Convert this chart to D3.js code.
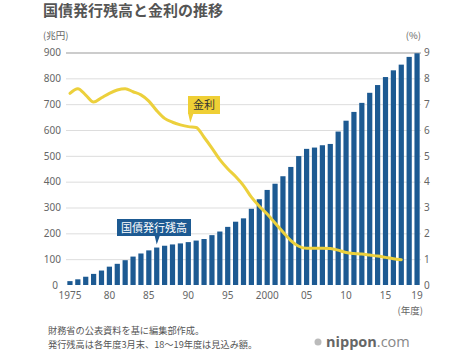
<!DOCTYPE html>
<html><head><meta charset="utf-8">
<script src="https://cdn.jsdelivr.net/npm/d3@7"></script>
<style>
body{margin:0;background:#fff;}
svg{display:block;font-family:"Noto Sans CJK JP","Noto Sans",sans-serif;}
</style></head>
<body>
<svg id="c" width="474" height="353"></svg>
<script>
const years = d3.range(1975, 2020);
const debt = [15,22,32,43,56,71,82,96,110,122,134,145,152,157,161,166,172,178,193,207,225,245,258,295,332,368,392,421,457,499,527,532,541,546,594,636,670,705,744,774,805,831,853,883,897];
const rateYears = d3.range(1975, 2018);
const rate = [7.42,7.6,7.35,7.08,7.25,7.42,7.55,7.6,7.48,7.36,7.12,6.75,6.45,6.3,6.2,6.13,6.1,5.72,5.3,4.85,4.5,4.2,3.85,3.4,3.05,2.75,2.4,2.05,1.72,1.5,1.42,1.42,1.42,1.41,1.35,1.26,1.22,1.2,1.16,1.12,1.07,1.02,0.98];
const leftTicks = [0,100,200,300,400,500,600,700,800,900];
const rightTicks = [0,1,2,3,4,5,6,7,8,9];
const xTickYears = [1975,1980,1985,1990,1995,2000,2005,2010,2015,2019];
const xTickLabels = ["1975","80","85","90","95","2000","05","10","15","19"];

const svg = d3.select("#c");
const x = d3.scaleBand().domain(years).range([66, 421]).paddingInner(0.34).paddingOuter(0.17);
const yL = d3.scaleLinear().domain([0, 900]).range([285, 52.5]);
const yR = d3.scaleLinear().domain([0, 9]).range([285, 52.5]);
const cx = d => x(d) + x.bandwidth() / 2;

const gray = "#666";
// title
svg.append("text").attr("x", 43).attr("y", 16).attr("font-size", 15).attr("font-weight", "bold")
  .attr("fill", "#555").text("国債発行残高と金利の推移");
svg.append("text").attr("x", 43).attr("y", 39).attr("font-size", 9.5).attr("fill", gray).text("(兆円)");
svg.append("text").attr("x", 421).attr("y", 39).attr("font-size", 9.5).attr("fill", gray).attr("text-anchor", "end").text("(%)");

// grid
svg.append("g").selectAll("line").data(leftTicks.filter(d => d > 0)).join("line")
  .attr("x1", 66).attr("x2", 421)
  .attr("y1", d => yL(d) + 0.5).attr("y2", d => yL(d) + 0.5)
  .attr("stroke", d => d === 900 ? "#999" : "#ddd").attr("stroke-width", 1);

// left axis
const gl = svg.append("g").attr("transform", "translate(61,0)")
  .call(d3.axisLeft(yL).tickValues(leftTicks).tickSize(0).tickPadding(0));
gl.select(".domain").remove();
gl.selectAll("text").attr("font-size", 10).attr("fill", gray).attr("font-family", "'Noto Sans','Noto Sans CJK JP',sans-serif");
gl.selectAll(".tick").filter(d => d === 0).select("text").attr("dx", -3);

// right axis
const gr = svg.append("g").attr("transform", "translate(424,0)")
  .call(d3.axisRight(yR).tickValues(rightTicks).tickSize(0).tickPadding(0));
gr.select(".domain").remove();
gr.selectAll("text").attr("font-size", 10).attr("fill", gray).attr("font-family", "'Noto Sans','Noto Sans CJK JP',sans-serif");

// bars
svg.append("g").selectAll("rect").data(years).join("rect")
  .attr("x", d => x(d)).attr("width", x.bandwidth())
  .attr("y", (d, i) => yL(debt[i])).attr("height", (d, i) => yL(0) - yL(debt[i]))
  .attr("fill", "#1d5a92");

// x axis labels
const xTickMap = new Map(xTickYears.map((y, i) => [y, xTickLabels[i]]));
const gx = svg.append("g").attr("transform", "translate(0,287)")
  .call(d3.axisBottom(x).tickValues(xTickYears).tickFormat(d => xTickMap.get(d)).tickSize(0).tickPadding(5));
gx.select(".domain").remove();
gx.selectAll("text").attr("font-size", 10).attr("fill", gray).attr("font-family", "'Noto Sans','Noto Sans CJK JP',sans-serif");
svg.append("text").attr("x", 423).attr("y", 314).attr("font-size", 9.5).attr("fill", gray).attr("text-anchor", "end").text("(年度)");

// rate line
const line = d3.line().x((d, i) => cx(rateYears[i])).y(d => yR(d)).curve(d3.curveMonotoneX);
svg.append("path").datum(rate).attr("d", line).attr("fill", "none")
  .attr("stroke", "#ecd03c").attr("stroke-width", 3).attr("stroke-linejoin", "round").attr("stroke-linecap", "round");

// callout labels
function callout(label, bx, by, bw, bh, tipX, tipY, fill, color) {
  const g = svg.append("g");
  const base = by + bh;
  g.append("path").attr("d",
    `M${bx},${by}H${bx + bw}V${base}H${tipX + 3}L${tipX},${tipY}L${tipX - 2},${base}H${bx}Z`)
    .attr("fill", fill);
  g.append("text").attr("x", bx + bw / 2).attr("y", by + bh / 2 + 4).attr("text-anchor", "middle")
    .attr("font-size", 11).attr("fill", color).text(label);
}
const rateLabelYear = 1990, debtLabelYear = 1986;
callout("金利", 188, 96, 32, 18, cx(rateLabelYear) + 2, yR(rate[rateYears.indexOf(rateLabelYear)]) - 4, "#efcf35", "#333");
callout("国債発行残高", 117, 219, 74, 17, cx(debtLabelYear), yL(debt[years.indexOf(debtLabelYear)]) - 3, "#1d5a92", "#fff");

// footer
svg.append("text").attr("x", 48).attr("y", 333.5).attr("font-size", 9.2).attr("fill", "#555").text("財務省の公表資料を基に編集部作成。");
svg.append("text").attr("x", 48).attr("y", 347.5).attr("font-size", 9.2).attr("fill", "#555").text("発行残高は各年度3月末、18〜19年度は見込み額。");
svg.append("circle").attr("cx", 318).attr("cy", 342).attr("r", 3.5).attr("fill", "#bbb");
const logo = svg.append("text").attr("x", 326).attr("y", 347).attr("font-size", 14.5).attr("fill", "#666")
  .attr("font-family", "'Open Sans','Noto Sans',sans-serif");
logo.append("tspan").attr("font-weight", "bold").text("nippon");
logo.append("tspan").attr("font-weight", "normal").attr("fill", "#888").text(".com");
</script>
</body></html>
